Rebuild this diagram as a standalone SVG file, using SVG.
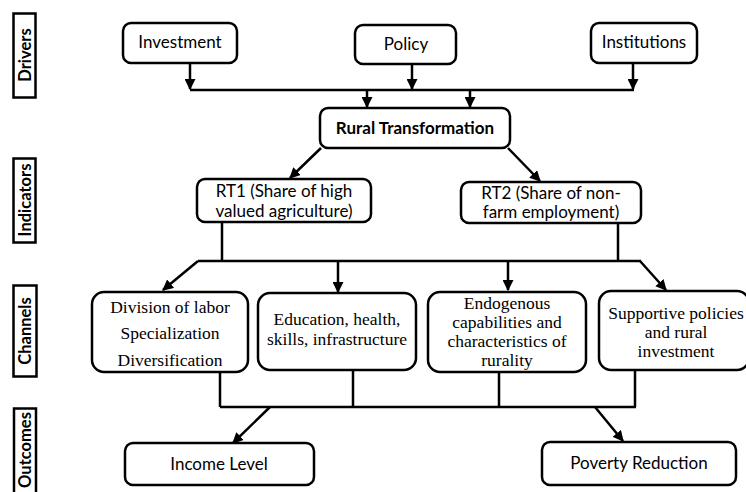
<svg xmlns="http://www.w3.org/2000/svg" width="746" height="492" viewBox="0 0 746 492">
<style>
.box{fill:#fff;stroke:#000;stroke-width:2.5}
.lab{fill:#fff;stroke:#000;stroke-width:2.5}
.ln{fill:none;stroke:#000;stroke-width:2.5}
.sans{font-family:Lato,"Liberation Sans",sans-serif;font-size:17px;fill:#000;text-anchor:middle}
.serif{font-family:"Liberation Serif","Times New Roman",serif;font-size:17.5px;fill:#000;text-anchor:middle}
.side{font-family:Lato,"Liberation Sans",sans-serif;font-size:16.5px;font-weight:bold;fill:#000;text-anchor:middle}
</style>
<defs>
<marker id="ah" viewBox="0 0 10 10" refX="9" refY="5" markerWidth="4.4" markerHeight="4.4" orient="auto" markerUnits="strokeWidth">
<path d="M0,0 L10,5 L0,10 z" fill="#000"/>
</marker>
</defs>
<rect width="746" height="492" fill="#fff"/>
<g id="side-labels">
<g id="lab-drivers"><rect class="lab" x="13.5" y="13.5" width="22" height="84"/><text class="side" transform="translate(30.5,55) rotate(-90)">Drivers</text></g>
<g id="lab-indicators"><rect class="lab" x="13.5" y="158.5" width="22" height="84"/><text class="side" transform="translate(30.5,200) rotate(-90)">Indicators</text></g>
<g id="lab-channels"><rect class="lab" x="13.5" y="285.5" width="23" height="91"/><text class="side" transform="translate(31,331) rotate(-90)">Channels</text></g>
<g id="lab-outcomes"><rect class="lab" x="14" y="408.5" width="22" height="90"/><text class="side" transform="translate(31,450) rotate(-90)">Outcomes</text></g>
</g>
<g id="connectors">
<path class="ln" d="M190,63 V89" marker-end="url(#ah)"/>
<path class="ln" d="M412,64 V89" marker-end="url(#ah)"/>
<path class="ln" d="M633,63 V89" marker-end="url(#ah)"/>
<path class="ln" d="M190,90 H634"/>
<path class="ln" d="M367,90 V107" marker-end="url(#ah)"/>
<path class="ln" d="M470,90 V107" marker-end="url(#ah)"/>
<path class="ln" d="M321,148 L290,178" marker-end="url(#ah)"/>
<path class="ln" d="M508,148 L540,181" marker-end="url(#ah)"/>
<path class="ln" d="M222,222 V261 M618,223 V261 M198,261 H641"/>
<path class="ln" d="M198,261 L163,290" marker-end="url(#ah)"/>
<path class="ln" d="M338,261 V292" marker-end="url(#ah)"/>
<path class="ln" d="M508,261 V290" marker-end="url(#ah)"/>
<path class="ln" d="M640,261 L666,290" marker-end="url(#ah)"/>
<path class="ln" d="M220,372 V407 M353,370 V407 M499,372 V407 M635,370 V407 M220,407 H636"/>
<path class="ln" d="M270,407 L233,443" marker-end="url(#ah)"/>
<path class="ln" d="M595,407 L623,441" marker-end="url(#ah)"/>
</g>
<g id="n-investment"><rect class="box" x="123" y="23" width="114" height="40" rx="8"/><text class="sans" x="180" y="48">Investment</text></g>
<g id="n-policy"><rect class="box" x="355" y="25" width="101" height="39" rx="8"/><text class="sans" x="406" y="50">Policy</text></g>
<g id="n-institutions"><rect class="box" x="591" y="23" width="106" height="40" rx="8"/><text class="sans" x="644" y="48">Institutions</text></g>
<g id="n-rural"><rect class="box" x="320" y="108" width="190" height="40" rx="8"/><text class="sans" x="415" y="134" font-weight="bold">Rural Transformation</text></g>
<g id="n-rt1"><rect class="box" x="197" y="179" width="174" height="43" rx="8"/><text class="sans" x="284" y="197">RT1 (Share of high</text><text class="sans" x="284" y="217">valued agriculture)</text></g>
<g id="n-rt2"><rect class="box" x="461" y="182" width="180" height="41" rx="8"/><text class="sans" x="551" y="199">RT2 (Share of non-</text><text class="sans" x="551" y="218">farm employment)</text></g>
<g id="n-division"><rect class="box" x="92" y="292" width="156" height="80" rx="12"/><text class="serif" x="170" y="313">Division of labor</text><text class="serif" x="170" y="339">Specialization</text><text class="serif" x="170" y="366">Diversification</text></g>
<g id="n-education"><rect class="box" x="258" y="293" width="158" height="77" rx="12"/><text class="serif" x="337" y="325">Education, health,</text><text class="serif" x="337" y="345">skills, infrastructure</text></g>
<g id="n-endogenous"><rect class="box" x="428" y="292" width="158" height="80" rx="12"/><text class="serif" x="507" y="309">Endogenous</text><text class="serif" x="507" y="328">capabilities and</text><text class="serif" x="507" y="347">characteristics of</text><text class="serif" x="507" y="366">rurality</text></g>
<g id="n-supportive"><rect class="box" x="599" y="291" width="150" height="79" rx="12"/><text class="serif" x="676" y="319">Supportive policies</text><text class="serif" x="676" y="338">and rural</text><text class="serif" x="676" y="357">investment</text></g>
<g id="n-income"><rect class="box" x="125" y="443" width="189" height="42" rx="8"/><text class="sans" x="219" y="470">Income Level</text></g>
<g id="n-poverty"><rect class="box" x="542" y="442" width="194" height="43" rx="8"/><text class="sans" x="639" y="469">Poverty Reduction</text></g>
</svg>
